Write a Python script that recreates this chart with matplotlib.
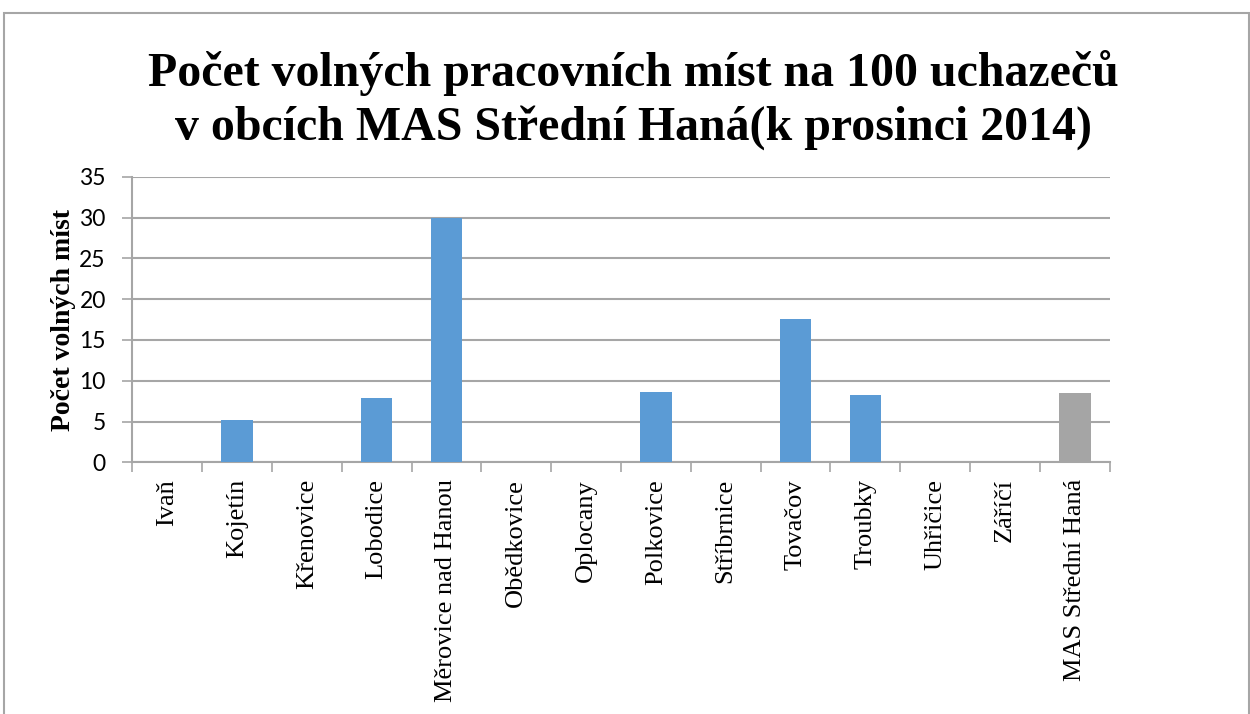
import matplotlib.pyplot as plt
import numpy as np
from matplotlib.patches import Rectangle

# Values
obce = ["Ivaň", "Kojetín", "Křenovice", "Lobodice", "Měrovice nad Hanou",
        "Obědkovice", "Oplocany", "Polkovice", "Stříbrnice", "Tovačov",
        "Troubky", "Uhřičice", "Záříčí", "MAS Střední Haná"]
mista = [0, 5.2, 0, 7.9, 29.9, 0, 0, 8.6, 0, 17.6, 8.2, 0, 0, 8.5]
barvy = ["#5B9BD5"] * 13 + ["#A5A5A5"]
y_ticks = [0, 5, 10, 15, 20, 25, 30, 35]

grid_col = "#A6A6A6"

fig = plt.figure(figsize=(12.5, 7.14), dpi=100)
fig.patches.append(Rectangle((0.003, -0.01), 0.996, 0.992, transform=fig.transFigure,
                             fill=False, edgecolor="#A6A6A6", linewidth=1.5))

ax = fig.add_axes([0.1058, 0.3525, 0.782, 0.4], frameon=True)
x = np.arange(len(obce))
ax.bar(x, mista, width=0.45, color=barvy, zorder=3)

ax.set_xlim(-0.5, len(obce) - 0.5)
ax.set_ylim(0, 35)
ax.set_yticks(y_ticks)
ax.set_yticklabels([str(t) for t in y_ticks], fontsize=16.5, family="Lato")
ax.yaxis.grid(True, color=grid_col, linewidth=1.5, zorder=0)
ax.tick_params(axis="y", length=7, width=1.2, color=grid_col, pad=12)

# category labels between boundary ticks
ax.set_xticks(x)
ax.set_xticklabels(obce, rotation=90, fontsize=19, family="Liberation Serif")
ax.tick_params(axis="x", which="major", length=0, pad=12)
ax.set_xticks(np.arange(-0.5, len(obce)), minor=True)
ax.tick_params(axis="x", which="minor", length=7, width=1.2, color=grid_col)

for side in ["top", "right"]:
    ax.spines[side].set_visible(False)
for side in ["left", "bottom"]:
    ax.spines[side].set_color(grid_col)
    ax.spines[side].set_linewidth(1.5)

ax.set_ylabel("Počet volných míst", fontsize=20, family="Liberation Serif",
              fontweight="bold")
ax.yaxis.set_label_coords(-0.058, 0.5)

fig.text(0.507, 0.86, "Počet volných pracovních míst na 100 uchazečů\n"
         "v obcích MAS Střední Haná(k prosinci 2014)",
         ha="center", va="center", fontsize=34.5, fontweight="bold",
         family="Liberation Serif", linespacing=1.25)

fig.savefig("out.png", dpi=100)
